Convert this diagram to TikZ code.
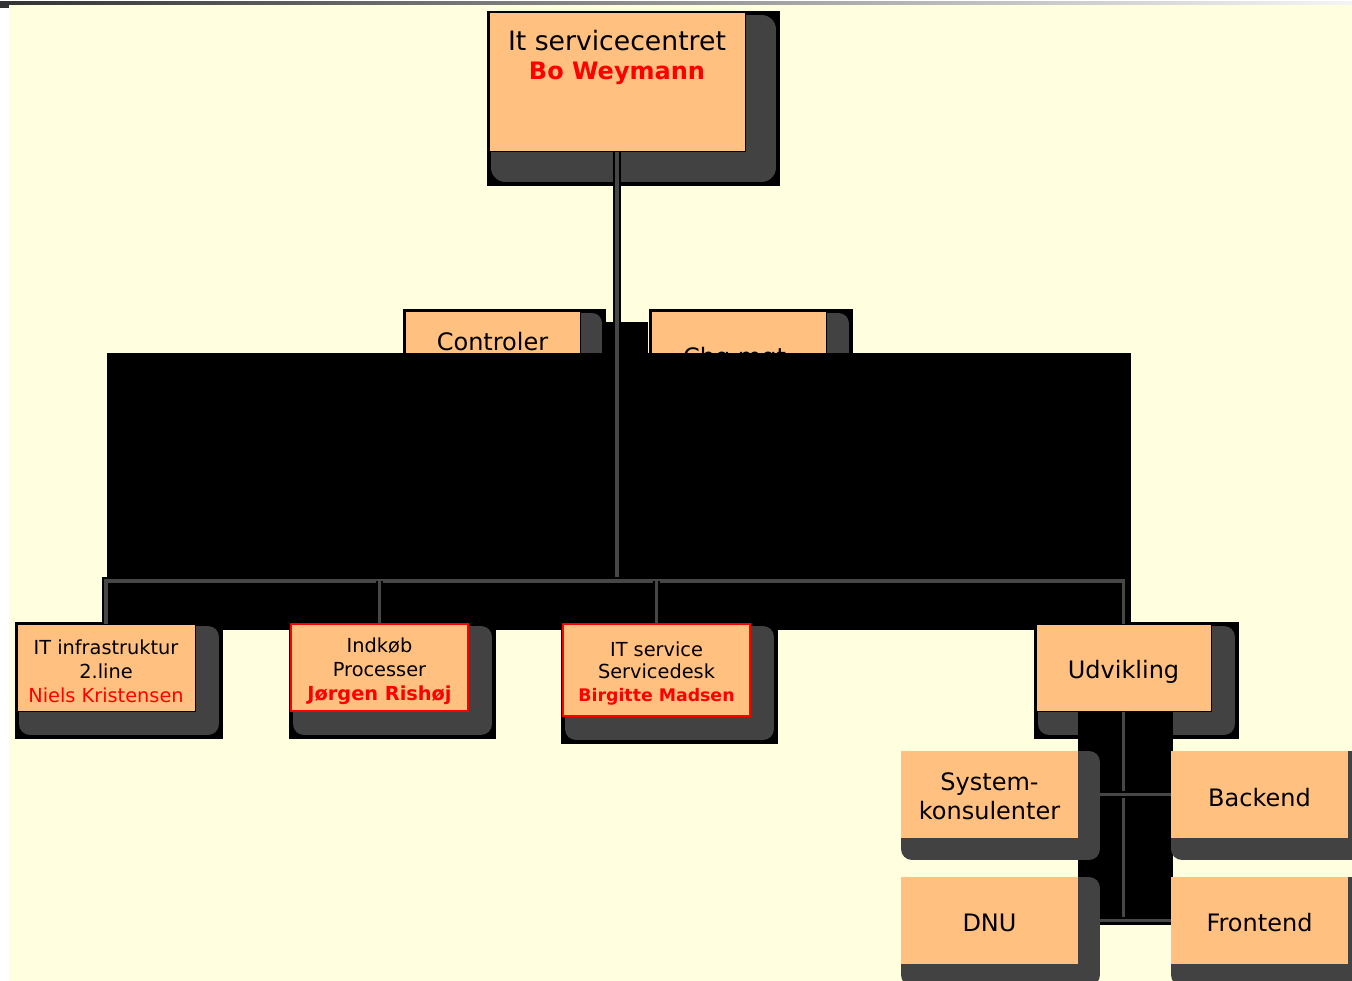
\documentclass[tikz,border=0pt]{standalone}
\usepackage{fontspec}
\setmainfont{DejaVu Sans}
\usetikzlibrary{positioning}
\definecolor{baggrundgul}{HTML}{FFFFE0}
\definecolor{boksorange}{HTML}{FFC080}
\definecolor{skyggegraa}{HTML}{424242}
\definecolor{linjegraa}{HTML}{474747}
\definecolor{bjaelke}{HTML}{333333}
\newcommand{\hovedfont}{\fontsize{20}{24}\selectfont}
\newcommand{\navnfont}{\fontsize{18}{22}\bfseries\selectfont}
\newcommand{\boksfont}{\fontsize{14.5}{18}\selectfont}
\newcommand{\storfont}{\fontsize{18}{22}\selectfont}
\pgfdeclarelayer{bund}
\pgfdeclarelayer{linjer}
\pgfsetlayers{bund,linjer,main}
\tikzset{
  boks/.style={draw=black, line width=0.75pt, fill=boksorange, inner sep=0pt,
    minimum width=131.25pt, minimum height=65.25pt},
  tekst/.style={align=center, inner sep=0pt, font=\boksfont},
  skygge/.style={
    preaction={fill=black, draw=black, line width=(#1+4)*0.75pt, transform canvas={shift={(#1/2,#1/2)}}},
    preaction={fill=skyggegraa, draw=skyggegraa, line width=(#1-4)*0.75pt, line join=round, transform canvas={shift={(#1/2,#1/2)}}}},
  skygge/.default=26,
  lys skygge/.style={preaction={fill=skyggegraa, draw=skyggegraa, line width=16.5pt, line join=round, transform canvas={shift={(11,11)}}}},
  roed kant/.style={draw=red, line width=1.5pt},
  delboks/.style={boks, draw=none, lys skygge, minimum width=132.75pt},
  linje/.style={draw=black, line width=1.4pt, double=linjegraa, double distance=2.6pt}
}

\begin{document}
\begin{tikzpicture}[x=0.75pt, y=-0.75pt]
\useasboundingbox (0,0) rectangle (1352,981);

\begin{pgfonlayer}{bund}
% baggrund
\fill[white] (0,0) rectangle (1352,981);
\fill[baggrundgul] (9,5) rectangle (1352,981);
\shade[left color=bjaelke, right color=white!96!black] (0,2) rectangle (1352,5);
\fill[bjaelke] (0,2) rectangle (9,8);

% ledelse
\node[boks, skygge=33, minimum width=192pt, minimum height=103.5pt] (it-servicecentret) at (617,82) {};
\node[anchor=base, yshift=-28.5pt, font=\hovedfont] (it-servicecentret-titel) at (it-servicecentret.north) {It servicecentret};
\node[anchor=base, yshift=-50.25pt, font=\navnfont, text=red] (it-servicecentret-navn) at (it-servicecentret.north) {Bo Weymann};

\node[boks, skygge=24] (controler) at (492.5,354.5) {};
\node[anchor=base, yshift=-30pt, font=\storfont] (controler-tekst) at (controler.north) {Controler};
\node[boks, skygge=25] (chg-mgt) at (738.5,354.5) {};
\node[anchor=base, yshift=-41.25pt, xshift=-3pt, font=\storfont] (chg-mgt-tekst) at (chg-mgt.north) {Chg mgt};

% sort flade over stabene
\fill[black] (107,353) rectangle (1131,630);
\fill[black] (604,322) rectangle (648,353);

% afdelinger
\node[boks, skygge, minimum width=133.5pt] (it-infrastruktur) at (106,667.5) {};
\node[tekst] (it-infrastruktur-tekst) at ([yshift=-3pt]it-infrastruktur.center) {IT infrastruktur\\2.line\\\textcolor{red}{Niels Kristensen}};
\node[boks, skygge, roed kant, minimum width=132.75pt] (indkob) at (379.5,667.5) {};
\node[tekst] (indkob-tekst) at ([yshift=-3pt]indkob.center) {Indkøb\\Processer\\\textcolor{red}{\bfseries Jørgen Rishøj}};
\node[boks, skygge, roed kant, minimum width=140.25pt, minimum height=69pt] (it-service) at (656.5,670) {};
\node[tekst, font=\fontsize{14.5}{17}\selectfont] (it-service-tekst) at ([yshift=-2.5pt]it-service.center) {IT service\\Servicedesk\\\textcolor{red}{\bfseries\fontsize{13}{17}\selectfont Birgitte Madsen}};
\node[boks, skygge] (udvikling) at (1123.5,667.5) {};
\node[tekst, font=\storfont] (udvikling-tekst) at ([yshift=-3pt]udvikling.center) {Udvikling};

\fill[black] (1078,711) rectangle (1173,925);
\end{pgfonlayer}

% udvikling
\node[delboks] (systemkonsulenter) at (989.5,794.5) {};
\node[tekst, font=\storfont] (systemkonsulenter-tekst) at ([yshift=-1.5pt]systemkonsulenter.center) {System-\\konsulenter};
\node[delboks, right=69pt of systemkonsulenter] (backend) {};
\node[tekst, font=\storfont] (backend-tekst) at ([yshift=-2pt]backend.center) {Backend};
\node[delboks, below=28.5pt of systemkonsulenter] (dnu) {};
\node[tekst, font=\storfont] (dnu-tekst) at ([yshift=-1.5pt]dnu.center) {DNU};
\node[delboks, right=69pt of dnu] (frontend) {};
\node[tekst, font=\storfont] (frontend-tekst) at ([yshift=-1.5pt]frontend.center) {Frontend};

\begin{pgfonlayer}{linjer}
\coordinate (bus) at (617,581);
\draw[linje] (it-servicecentret.south) -- (bus);
\draw[linje] (it-infrastruktur.north) |- (bus) -| (udvikling.north);
\draw[linje] (indkob.north) -- (indkob.north |- bus);
\draw[linje] (it-service.north) -- (it-service.north |- bus);
\draw[linje] (udvikling.south) -- (udvikling.south |- dnu.east);
\draw[linje] (systemkonsulenter.east) -- (backend.west);
\draw[linje] (dnu.east) -- (frontend.west);
\end{pgfonlayer}
\end{tikzpicture}
\end{document}
